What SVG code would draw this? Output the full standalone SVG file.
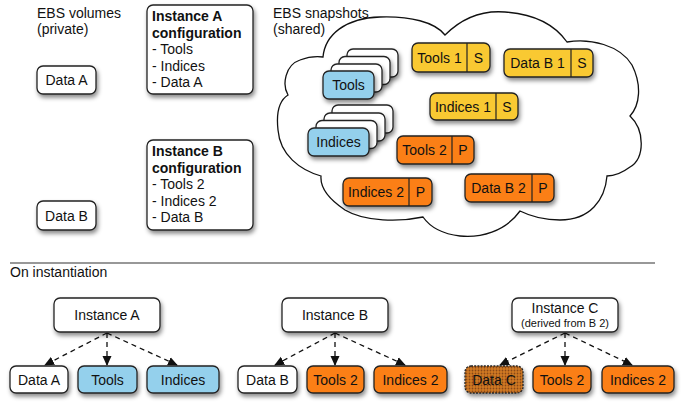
<svg xmlns="http://www.w3.org/2000/svg" width="685" height="409" viewBox="0 0 685 409">
<defs>
<filter id="sh" x="-20%" y="-20%" width="150%" height="170%">
<feDropShadow dx="1.5" dy="3" stdDeviation="2.2" flood-color="#000" flood-opacity="0.45"/>
</filter>
<pattern id="dots" width="3" height="3" patternUnits="userSpaceOnUse">
<rect width="3" height="3" fill="#D27A25"/>
<circle cx="1.5" cy="1.5" r="0.9" fill="#8A4A14"/>
</pattern>
<marker id="ah" viewBox="0 0 10 10" refX="9" refY="5" markerWidth="10" markerHeight="10" markerUnits="userSpaceOnUse" orient="auto">
<path d="M0,0.5 L10,5 L0,9.5 z" fill="#111"/>
</marker>
<style>
text{font-family:"Liberation Sans",Arial,sans-serif;font-size:14px;fill:#111}
.c{text-anchor:middle}
.b{font-weight:bold}
.sm{font-size:11px}
.box{stroke:#222;stroke-width:1.3;filter:url(#sh)}
.w{fill:#fff}
.y{fill:#F9C930}
.o{fill:#FB7F16}
.bl{fill:#94D0EC}
.dc{fill:url(#dots);stroke-dasharray:2 1.2}
.div{stroke:#222;stroke-width:1.2}
.con{stroke:#111;stroke-width:1.3;stroke-dasharray:5 4;fill:none;marker-end:url(#ah)}
</style>
</defs>

<!-- headings -->
<text x="37" y="18">EBS volumes</text>
<text x="37" y="34">(private)</text>
<text x="273" y="18">EBS snapshots</text>
<text x="273" y="34">(shared)</text>

<!-- cloud -->
<path id="cloud" d="M445,35 C460,20 480,10 505,12 C535,14 555,25 567,42 C590,38 620,45 632,65 C642,85 640,105 630,116 C645,130 645,158 630,167 C622,173 614,176 607,176 C605,200 590,220 560,220 C545,220 530,216 520,211 C505,232 480,238 460,236 C443,234 430,227 423,217 C400,222 365,222 345,210 C330,200 320,188 321,176 C300,170 280,155 278,130 C276,112 280,100 288,95 C282,85 285,65 300,60 C308,57 316,56 323,57 C325,35 345,18 380,17 C410,16 435,22 445,35 Z" fill="#fff" stroke="#111" stroke-width="1.3"/>

<!-- private volumes -->
<g id="dataA-top"><rect class="box w" x="37" y="66" width="59" height="28" rx="6"/><text class="c" x="66.5" y="85">Data A</text></g>
<g id="dataB-top"><rect class="box w" x="37" y="201" width="59" height="29" rx="6"/><text class="c" x="66.5" y="220.5">Data B</text></g>

<!-- configurations -->
<g id="configA"><rect class="box w" x="147" y="5" width="106" height="89" rx="6"/>
<text class="b" x="152" y="21">Instance A</text>
<text class="b" x="152" y="37.5">configuration</text>
<text x="152" y="54">- Tools</text>
<text x="152" y="70.5">- Indices</text>
<text x="152" y="87">- Data A</text></g>
<g id="configB"><rect class="box w" x="147" y="140" width="106" height="90" rx="6"/>
<text class="b" x="152" y="156">Instance B</text>
<text class="b" x="152" y="172.5">configuration</text>
<text x="152" y="189">- Tools 2</text>
<text x="152" y="205.5">- Indices 2</text>
<text x="152" y="222">- Data B</text></g>

<!-- stacks -->
<g id="tools-stack">
<rect class="box w" x="347" y="49" width="51" height="28" rx="6"/>
<rect class="box w" x="339" y="56.5" width="51" height="28" rx="6"/>
<rect class="box w" x="331" y="64" width="51" height="28" rx="6"/>
<rect class="box bl" x="323" y="71" width="51" height="28" rx="6"/>
<text class="c" x="348.5" y="90">Tools</text></g>
<g id="indices-stack">
<rect class="box w" x="332" y="105" width="61" height="28" rx="6"/>
<rect class="box w" x="324" y="113" width="61" height="28" rx="6"/>
<rect class="box w" x="316" y="120.5" width="61" height="28" rx="6"/>
<rect class="box bl" x="308" y="128" width="61" height="28" rx="6"/>
<text class="c" x="338.5" y="147">Indices</text></g>

<!-- snapshots -->
<g id="tools1"><rect class="box y" x="412" y="43" width="78" height="29" rx="6"/><line class="div" x1="467" y1="43" x2="467" y2="72"/><text class="c" x="439.5" y="62.5">Tools 1</text><text class="c" x="478.5" y="62.5">S</text></g>
<g id="datab1"><rect class="box y" x="504" y="49" width="89" height="28" rx="6"/><line class="div" x1="571" y1="49" x2="571" y2="77"/><text class="c" x="537.5" y="68">Data B 1</text><text class="c" x="582" y="68">S</text></g>
<g id="indices1"><rect class="box y" x="430" y="93" width="88" height="27" rx="6"/><line class="div" x1="496" y1="93" x2="496" y2="120"/><text class="c" x="463" y="111.5">Indices 1</text><text class="c" x="507" y="111.5">S</text></g>
<g id="tools2"><rect class="box o" x="397" y="136" width="77" height="28" rx="6"/><line class="div" x1="452" y1="136" x2="452" y2="164"/><text class="c" x="424.5" y="155">Tools 2</text><text class="c" x="463" y="155">P</text></g>
<g id="indices2"><rect class="box o" x="343" y="178" width="89" height="28" rx="6"/><line class="div" x1="409" y1="178" x2="409" y2="206"/><text class="c" x="376" y="197">Indices 2</text><text class="c" x="420.5" y="197">P</text></g>
<g id="datab2"><rect class="box o" x="465" y="174" width="89" height="28" rx="6"/><line class="div" x1="532" y1="174" x2="532" y2="202"/><text class="c" x="498.5" y="193">Data B 2</text><text class="c" x="543" y="193">P</text></g>

<!-- separator -->
<line x1="10" y1="263" x2="655" y2="263" stroke="#333" stroke-width="1.2"/>
<text x="10" y="277">On instantiation</text>

<!-- connectors -->
<g id="connectors">
<line class="con" x1="107" y1="333" x2="45" y2="365"/>
<line class="con" x1="107" y1="333" x2="107" y2="365"/>
<line class="con" x1="107" y1="333" x2="177" y2="365"/>
<line class="con" x1="335" y1="333" x2="275" y2="365"/>
<line class="con" x1="335" y1="333" x2="335" y2="365"/>
<line class="con" x1="335" y1="333" x2="405" y2="365"/>
<line class="con" x1="565" y1="333" x2="500" y2="365"/>
<line class="con" x1="565" y1="333" x2="565" y2="365"/>
<line class="con" x1="565" y1="333" x2="632" y2="365"/>
</g>

<!-- instances -->
<g id="instA"><rect class="box w" x="54" y="298" width="106" height="34" rx="6"/><text class="c" x="107" y="320">Instance A</text></g>
<g id="instB"><rect class="box w" x="282" y="298" width="106" height="34" rx="6"/><text class="c" x="335" y="320">Instance B</text></g>
<g id="instC"><rect class="box w" x="512" y="298" width="106" height="34" rx="6"/><text class="c" x="565" y="313">Instance C</text><text class="c sm" x="565" y="326.5">(derived from B 2)</text></g>

<g id="a-data"><rect class="box w" x="10" y="366" width="58" height="27" rx="6"/><text class="c" x="39" y="384.5">Data A</text></g>
<g id="a-tools"><rect class="box bl" x="78" y="366" width="59" height="27" rx="6"/><text class="c" x="107.5" y="384.5">Tools</text></g>
<g id="a-indices"><rect class="box bl" x="147" y="366" width="72" height="27" rx="6"/><text class="c" x="183" y="384.5">Indices</text></g>

<g id="b-data"><rect class="box w" x="238" y="366" width="59" height="27" rx="6"/><text class="c" x="267.5" y="384.5">Data B</text></g>
<g id="b-tools"><rect class="box o" x="307" y="366" width="57" height="27" rx="6"/><text class="c" x="335.5" y="384.5">Tools 2</text></g>
<g id="b-indices"><rect class="box o" x="374" y="366" width="73" height="27" rx="6"/><text class="c" x="410.5" y="384.5">Indices 2</text></g>

<g id="c-data"><rect class="box dc" x="465" y="366" width="58" height="27" rx="6"/><text class="c" x="494" y="384.5">Data C</text></g>
<g id="c-tools"><rect class="box o" x="533" y="366" width="58" height="27" rx="6"/><text class="c" x="562" y="384.5">Tools 2</text></g>
<g id="c-indices"><rect class="box o" x="602" y="366" width="72" height="27" rx="6"/><text class="c" x="638" y="384.5">Indices 2</text></g>
</svg>
